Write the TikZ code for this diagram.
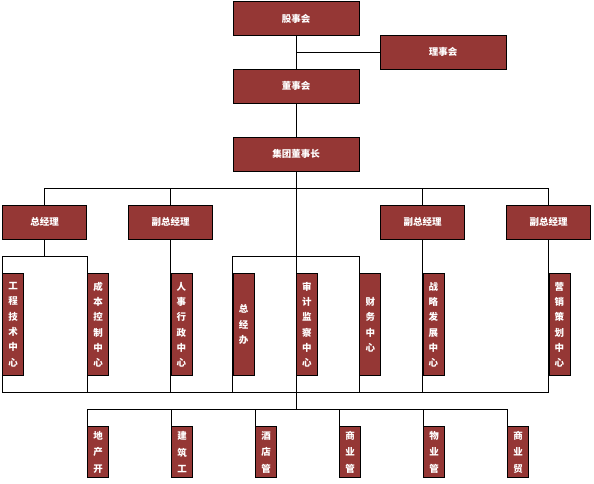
\documentclass[tikz,border=0pt]{standalone}
\usepackage{fontspec}
\newfontfamily\cjk{Noto Sans CJK SC}
\usetikzlibrary{positioning, calc}
\definecolor{boxred}{HTML}{953735}

\begin{document}
\begin{tikzpicture}[x=1pt, y=-1pt, line width=0.8pt,
    unit/.style={draw=black, fill=boxred, text=white, inner sep=0pt, font=\cjk\bfseries\fontsize{9.5}{11}\selectfont},
    topbox/.style={unit, minimum width=126pt, minimum height=34pt},
    mgrbox/.style={unit, minimum width=84pt, minimum height=34pt},
    deptbox/.style={unit, minimum width=21pt, minimum height=102pt, anchor=north west, align=center, font=\cjk\bfseries\fontsize{9.5}{15.3}\selectfont},
    subbox/.style={unit, minimum width=21pt, minimum height=51pt, anchor=north west, align=center, font=\cjk\bfseries\fontsize{9.5}{16.3}\selectfont}]
    \useasboundingbox (0,0) rectangle (594,484);
    % levels of the bus lines
    \coordinate (bus) at (0,188.3);
    \coordinate (brk) at (0,256);
    \coordinate (vt) at (0,273.3);
    \coordinate (bot) at (0,392.3);
    \coordinate (lbus) at (0,409.3);
    \coordinate (st) at (0,426.3);
    % top of the chart
    \node (gdh) [topbox] at (296,18.5) {股事会};
    \node (lsh) [topbox] at (443,52.3) {理事会};
    \node (dsh) [topbox] at (296,86.3) {董事会};
    \node (jt) [topbox] at (296,154.3) {集团董事长};
    \draw (gdh) -- (dsh);
    \draw (lsh.west) -- (lsh.west -| gdh.south);
    \draw (dsh) -- (jt);
    % managers
    \node (zjl) [mgrbox] at (44.7,222) {总经理};
    \node (fz1) [mgrbox] at (170.5,222) {副总经理};
    \node (fz2) [mgrbox] at (422.5,222) {副总经理};
    \node (fz3) [mgrbox] at (548.5,222) {副总经理};
    \draw (zjl.north) |- (fz3.north |- bus) -- (fz3.north);
    \draw (fz1.north) -- (fz1.north |- bus);
    \draw (fz2.north) -- (fz2.north |- bus);
    \draw (jt.south) -- (jt.south |- lbus);
    % brackets and drops to the lower bus
    \draw (zjl.south) -- (zjl.south |- brk);
    \draw (zjl.south west |- brk) rectangle (zjl.south east |- bot);
    \draw (jt.south west |- brk) rectangle (jt.south east |- bot);
    \draw (fz1.south) -- (fz1.south |- bot);
    \draw (fz2.south) -- (fz2.south |- bot);
    \draw (fz3.south) -- (fz3.south |- bot);
    \draw (zjl.south west |- bot) -- (fz3.south |- bot);
    % centres
    \node (c1) [deptbox] at (zjl.south west |- vt) {工\\程\\技\\术\\中\\心};
    \node (c2) [deptbox] at (zjl.south east |- vt) {成\\本\\控\\制\\中\\心};
    \node (c3) [deptbox] at (fz1.south |- vt) {人\\事\\行\\政\\中\\心};
    \node (c4) [deptbox] at (jt.south west |- vt) {总\\经\\办};
    \node (c5) [deptbox] at (jt.south |- vt) {审\\计\\监\\察\\中\\心};
    \node (c6) [deptbox] at (jt.south east |- vt) {财\\务\\中\\心};
    \node (c7) [deptbox] at (fz2.south |- vt) {战\\略\\发\\展\\中\\心};
    \node (c8) [deptbox] at (fz3.south |- vt) {营\\销\\策\\划\\中\\心};
    % companies
    \foreach \t [count=\i from 0] in {{地\\产\\开},{建\\筑\\工},{酒\\店\\管},{商\\业\\管},{物\\业\\管},{商\\业\\贸}}
        \node (d\i) [subbox] at ($(c2.north west |- st)+(84*\i,0)$) {\t};
    \draw (d0.north west) |- (d5.north west |- lbus) -- (d5.north west);
    \foreach \i in {1,...,4}
        \draw (d\i.north west) -- (d\i.north west |- lbus);
\end{tikzpicture}
\end{document}
